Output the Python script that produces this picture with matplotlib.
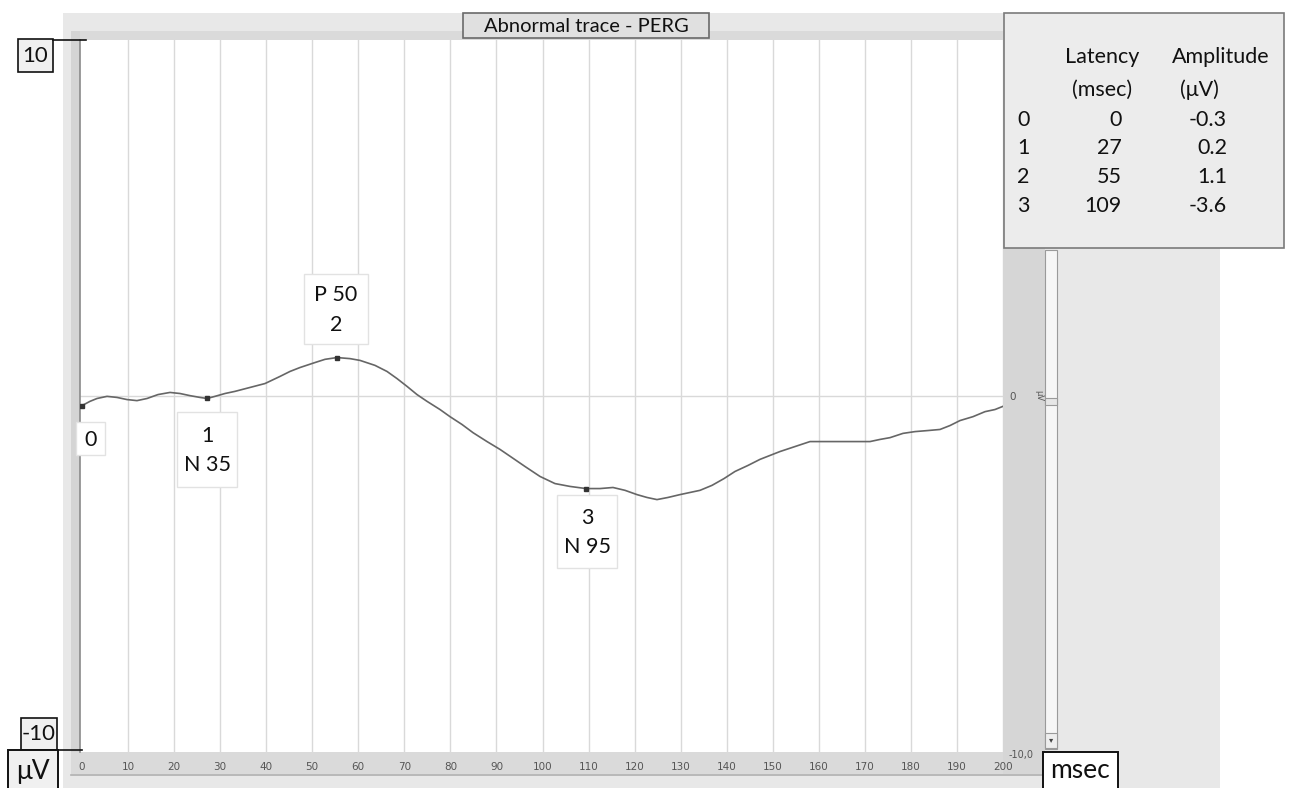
import matplotlib
matplotlib.use("Agg")
import matplotlib.pyplot as plt
from matplotlib.patches import Rectangle

# ---- data ----
time_ms = [0, 1.74, 3.26, 5.43, 7.60, 9.77, 11.94, 14.12, 16.50, 19.11, 21.28, 23.45, 25.62,
           27.14, 28.88, 31.05, 33.22, 36.48, 39.74, 43.00, 45.17, 47.34, 50.60, 52.77, 55.37,
           58.20, 60.37, 63.63, 66.23, 68.40, 70.58, 72.75, 74.92, 77.74, 79.91, 82.52, 84.91,
           87.95, 90.77, 93.38, 96.20, 99.46, 102.71, 105.97, 109.45, 112.49, 115.31, 117.92,
           120.52, 122.69, 124.86, 127.25, 129.86, 132.03, 134.20, 136.81, 139.41, 141.80,
           144.63, 147.23, 149.40, 151.57, 154.83, 158.09, 162.43, 166.78, 171.12, 173.29,
           175.46, 178.28, 180.89, 183.71, 186.32, 188.49, 190.66, 193.49, 196.09, 198.26, 200]
amplitude_uv = [-0.27, -0.15, -0.07, -0.01, -0.04, -0.10, -0.13, -0.07, 0.04, 0.10, 0.07, 0.01,
                -0.04, -0.07, -0.01, 0.07, 0.13, 0.24, 0.35, 0.55, 0.69, 0.80, 0.94, 1.03, 1.08,
                1.05, 1.00, 0.86, 0.69, 0.49, 0.27, 0.04, -0.15, -0.38, -0.58, -0.80, -1.03,
                -1.28, -1.50, -1.73, -1.98, -2.26, -2.46, -2.54, -2.60, -2.60, -2.57, -2.65,
                -2.77, -2.85, -2.91, -2.85, -2.77, -2.71, -2.65, -2.51, -2.32, -2.12, -1.95,
                -1.78, -1.67, -1.56, -1.42, -1.28, -1.28, -1.28, -1.28, -1.22, -1.17, -1.05,
                -1.00, -0.97, -0.94, -0.83, -0.69, -0.58, -0.44, -0.38, -0.29]

marker_ms = [0, 27.14, 55.37, 109.45]
marker_uv = [-0.27, -0.07, 1.08, -2.60]
marker_labels = ["0", "1\nN 35", "P 50\n2", "3\nN 95"]

table_idx = ["0", "1", "2", "3"]
table_latency = ["0", "27", "55", "109"]
table_amplitude = ["-0.3", "0.2", "1.1", "-3.6"]

x_ticks = list(range(0, 201, 10))
title = "Abnormal trace - PERG"

W, H = 1295, 788
FONT = ["Lato", "DejaVu Sans"]
NARROW = ["Liberation Sans Narrow", "DejaVu Sans"]
fig = plt.figure(figsize=(W / 100, H / 100), dpi=100)

def pix_axes(z):
    a = fig.add_axes([0, 0, 1, 1], zorder=z)
    a.set_xlim(0, W)
    a.set_ylim(H, 0)
    a.axis("off")
    a.patch.set_alpha(0)
    return a

bg = pix_axes(0)

def rect(a, x0, y0, x1, y1, fc, ec="none", lw=1.0, z=1):
    a.add_patch(Rectangle((x0, y0), x1 - x0, y1 - y0, facecolor=fc, edgecolor=ec, lw=lw, zorder=z))

# outer grey frame
rect(bg, 63, 13, 1220, 790, "#e8e8e8")
rect(bg, 71, 31, 1003, 40, "#dadada")
rect(bg, 71, 31, 80, 752, "#d4d4d4")
rect(bg, 71, 752, 1045, 774, "#dadada")
bg.plot([71, 1045], [774.5, 774.5], color="#b0b0b0", lw=1.2, zorder=2)
rect(bg, 1003, 40, 1045, 774, "#d6d6d6")
# scrollbar
rect(bg, 1045, 250, 1057, 749, "#f6f6f6", ec="#9a9a9a", lw=0.8, z=2)
rect(bg, 1045, 398, 1057, 405, "#e6e6e6", ec="#9a9a9a", lw=0.8, z=3)
rect(bg, 1045, 733, 1057, 748, "#eeeeee", ec="#9a9a9a", lw=0.8, z=3)
bg.text(1051, 740, "▾", ha="center", va="center", fontsize=6, color="#444", zorder=4)

# ---- main data axes ----
px_per_ms = (1003 - 82) / 200.0
left_px = 80
x_lo = -(82 - left_px) / px_per_ms
ax = fig.add_axes([left_px / W, (H - 752) / H, (1003 - left_px) / W, (752 - 40) / H], zorder=1)
ax.set_xlim(x_lo, 200)
ax.set_ylim(-10, 10)
ax.set_facecolor("white")
for s in ["top", "right", "bottom"]:
    ax.spines[s].set_visible(False)
ax.spines["left"].set_color("#8a8a8a")
ax.spines["left"].set_linewidth(1.2)
for t in x_ticks[1:]:
    ax.axvline(t, color="#d9d9d9", lw=1.0, zorder=0)
ax.axhline(0, color="#d9d9d9", lw=1.0, zorder=0)
ax.plot(time_ms, amplitude_uv, color="#666666", lw=1.2, zorder=3, solid_joinstyle="round")
ax.plot(marker_ms, marker_uv, "s", color="#333333", ms=3, zorder=4)
ax.set_xticks(x_ticks)
ax.set_xticklabels([str(t) for t in x_ticks])
ax.set_yticks([])
ax.tick_params(axis="x", length=0, pad=7, labelsize=7.5, labelcolor="#555555")
for lab in ax.get_xticklabels():
    lab.set_family(NARROW)

# ---- overlay ----
ov = pix_axes(2)

rect(ov, 463, 13, 709, 38, "#e0e0e0", ec="#6a6a6a", lw=1.2, z=5)
ov.text(586, 26, title, ha="center", va="center", fontsize=14.5, family=FONT, color="#111", zorder=6)

rect(ov, 1004, 13, 1284, 248, "#ececec", ec="#7a7a7a", lw=1.2, z=5)
tf = dict(fontsize=15.5, family=FONT, color="#111", zorder=6, va="center")
ov.text(1102, 57, "Latency", ha="center", **tf)
ov.text(1221, 57, "Amplitude", ha="center", **tf)
ov.text(1102, 90, "(msec)", ha="center", **tf)
ov.text(1180, 90, "(μV)", ha="left", **tf)
row_y = [120, 148, 177, 206]
for i in range(len(table_idx)):
    ov.text(1017, row_y[i], table_idx[i], ha="left", **tf)
    ov.text(1122, row_y[i], table_latency[i], ha="right", **tf)
    ov.text(1227, row_y[i], table_amplitude[i], ha="right", **tf)

boxes = [(76, 422, 105, 455), (177, 412, 237, 487), (304, 274, 368, 344), (557, 495, 617, 568)]
for (x0, y0, x1, y1), lab in zip(boxes, marker_labels):
    rect(ov, x0, y0, x1, y1, "white", ec="#e2e2e2", lw=1.0, z=5)
    ov.text((x0 + x1) / 2, (y0 + y1) / 2 + 1, lab, ha="center", va="center", fontsize=15.5,
            family=FONT, color="#111", linespacing=1.6, zorder=6)

rect(ov, 18, 39, 53, 72, "#f0f0f0", ec="#111", lw=1.2, z=5)
ov.text(35.5, 56, "10", ha="center", va="center", fontsize=16, family=FONT, color="#111", zorder=6)
ov.plot([53, 86], [40, 40], color="#111", lw=1.2, zorder=5)
rect(ov, 21, 718, 57, 750, "#f0f0f0", ec="#111", lw=1.2, z=5)
ov.text(39, 734, "-10", ha="center", va="center", fontsize=16, family=FONT, color="#111", zorder=6)
ov.plot([57, 82], [750, 750], color="#111", lw=1.2, zorder=5)
rect(ov, 8, 750, 58, 792, "#f0f0f0", ec="#111", lw=1.4, z=5)
ov.text(33, 771, "μV", ha="center", va="center", fontsize=19, family=FONT, color="#111", zorder=6)
rect(ov, 1043, 752, 1118, 792, "white", ec="#111", lw=1.4, z=5)
ov.text(1080.5, 771, "msec", ha="center", va="center", fontsize=19, family=FONT, color="#111", zorder=6)

ov.text(1013, 397, "0", ha="center", va="center", fontsize=7.5, color="#555", zorder=6, family=NARROW)
ov.text(1039, 396, "μV", ha="center", va="center", fontsize=6, color="#555", rotation=-90, zorder=6)
ov.text(1021, 755, "-10,0", ha="center", va="center", fontsize=7, color="#555", zorder=6, family=NARROW)

fig.savefig("out.png", dpi=100)
